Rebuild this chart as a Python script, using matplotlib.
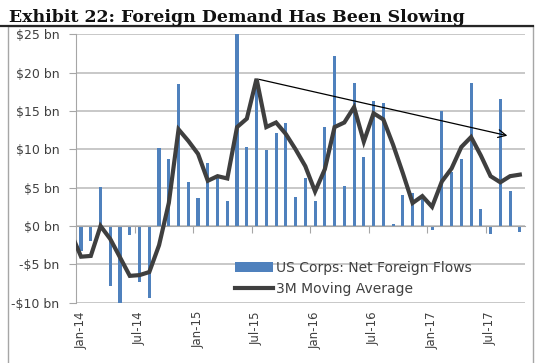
import numpy as np
import matplotlib
matplotlib.use("Agg")
import matplotlib.pyplot as plt
from matplotlib.patches import Rectangle
from matplotlib.lines import Line2D

# monthly flows, Jan-14 .. Oct-17 ($ bn)
months = [f"{m}-{y}" for y in range(14, 18) for m in
          ["Jan", "Feb", "Mar", "Apr", "May", "Jun", "Jul", "Aug", "Sep", "Oct", "Nov", "Dec"]][:46]
flows = [-3.3, -1.9, 5.1, -7.8, -10.2, -1.2, -7.3, -9.4, 10.2, 8.7, 18.5, 5.7,
         3.7, 8.2, 6.6, 3.3, 25.0, 10.3, 18.3, 9.9, 12.1, 13.4, 3.8, 6.3,
         3.3, 12.9, 22.2, 5.2, 18.7, 9.0, 16.3, 16.1, 0.2, 4.0, 4.3, 3.5,
         -0.5, 15.0, 7.0, 8.7, 18.7, 2.2, -1.1, 16.6, 4.6, -0.8]
# 3M moving average as drawn, starting Dec-13
ma_start = -1
moving_avg = [-1.0, -4.0, -3.9, 0.0, -1.7, -4.1, -6.5, -6.4, -6.0, -2.5, 3.0, 12.6, 11.1,
              9.4, 5.9, 6.5, 6.2, 12.9, 14.0, 19.2, 12.9, 13.5, 12.0, 10.0, 7.8,
              4.5, 7.4, 12.9, 13.5, 15.5, 11.0, 14.7, 13.9, 10.6, 6.9, 3.0, 3.9,
              2.5, 5.8, 7.5, 10.3, 11.6, 9.2, 6.5, 5.7, 6.5, 6.7]
trend_end = (44, 11.7)
yticks = [-10, -5, 0, 5, 10, 15, 20, 25]

x = np.arange(len(flows))
xm = np.arange(len(moving_avg)) + ma_start

fig = plt.figure(figsize=(5.5, 3.63), dpi=100)
ax = fig.add_axes([0.1385, 0.1661, 0.8155, 0.7394])

bars = ax.bar(x, flows, width=0.32, color="#4f81bd", zorder=2)
line, = ax.plot(xm, moving_avg, color="#3f3f3f", lw=3, zorder=3, solid_joinstyle="miter")

# trend arrow from the peak of the average
peak = int(np.argmax(moving_avg))
ax.annotate("", xy=trend_end, xytext=(xm[peak], moving_avg[peak]),
            arrowprops=dict(arrowstyle="->", color="black", lw=0.9, mutation_scale=14),
            zorder=4)

ax.set_xlim(-0.5, len(flows) - 0.5)
ax.set_ylim(-10, 25)
ax.set_yticks(yticks)
ax.set_yticklabels([f"${v} bn" if v >= 0 else f"-${-v} bn" for v in yticks])
ax.grid(axis="y", color="#bfbfbf", lw=1.2, zorder=0)
ax.set_axisbelow(True)

for s in ["top", "right"]:
    ax.spines[s].set_visible(False)
ax.spines["left"].set_color("#a6a6a6")
ax.spines["bottom"].set_color("#a6a6a6")
ax.spines["bottom"].set_position(("data", 0))
ax.tick_params(axis="y", colors="#a6a6a6", labelcolor="#404040", labelsize=9, length=5, pad=7)
ax.set_xticks(np.arange(5.5, len(flows), 6))
ax.set_xticklabels([])
ax.tick_params(axis="x", colors="#a6a6a6", length=5, direction="out")

sec = ax.secondary_xaxis(0)
sec.set_xticks(x[::6])
sec.set_xticklabels(months[::6], rotation=90, fontsize=8.5, color="#404040")
sec.tick_params(length=0, pad=6)
sec.spines["bottom"].set_visible(False)

ax.legend([bars, line], ["US Corps: Net Foreign Flows", "3M Moving Average"],
          loc="upper left", bbox_to_anchor=(235 / 550, 1 - 261 / 363),
          bbox_transform=fig.transFigure, frameon=False, fontsize=10,
          handlelength=2.75, handletextpad=0.2, labelspacing=0.5, borderpad=0,
          borderaxespad=0, labelcolor="#404040")

# frame and title
fig.patches.append(Rectangle((7.5 / 550, -0.01), (533 - 7.5) / 550, 1 - 26 / 363 + 0.01,
                             transform=fig.transFigure, fill=False,
                             edgecolor="#a6a6a6", lw=1))
fig.lines.append(Line2D([0, 533 / 550], [1 - 26 / 363] * 2, transform=fig.transFigure,
                        color="#262626", lw=1.6))
fig.text(9 / 550, 1 - 21.5 / 363, "Exhibit 22: Foreign Demand Has Been Slowing",
         family="DejaVu Serif", weight="bold", fontsize=12.5, va="baseline", color="#111111")

fig.savefig("out.png", dpi=100)
